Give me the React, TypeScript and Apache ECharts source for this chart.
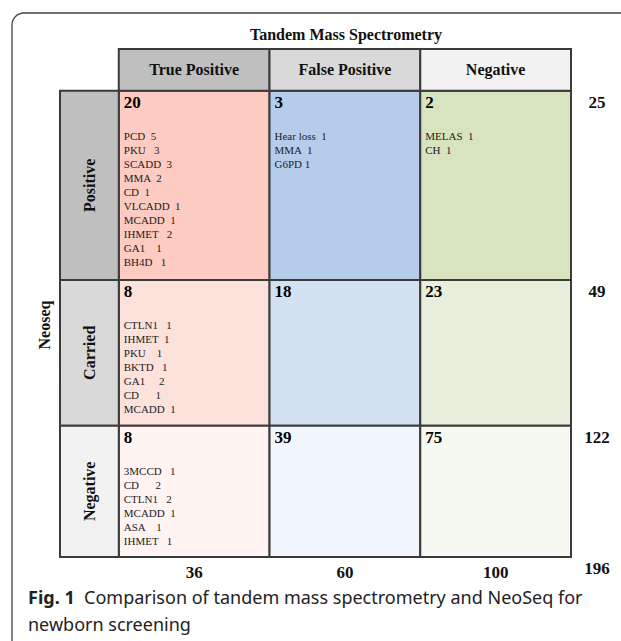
import React, { useEffect, useRef } from "react";
import * as echarts from "echarts";

// ---------- data ----------
const chartTitle = "Tandem Mass Spectrometry";
const rowAxisName = "Neoseq";
const colLabels = ["True Positive", "False Positive", "Negative"];
const rowLabels = ["Positive", "Carried", "Negative"];
const countsPositive = [20, 3, 2];
const countsCarried = [8, 18, 23];
const countsNegative = [8, 39, 75];
const rowTotals = [25, 49, 122];
const colTotals = [36, 60, 100];
const grandTotal = 196;
const detailsPositive = [
  ["PCD  5", "PKU   3", "SCADD  3", "MMA  2", "CD  1", "VLCADD  1", "MCADD  1", "IHMET   2", "GA1    1", "BH4D   1"],
  ["Hear loss  1", "MMA  1", "G6PD 1"],
  ["MELAS  1", "CH  1"],
];
const detailsCarried = [
  ["CTLN1   1", "IHMET  1", "PKU    1", "BKTD   1", "GA1     2", "CD      1", "MCADD  1"],
  [],
  [],
];
const detailsNegative = [
  ["3MCCD   1", "CD      2", "CTLN1   2", "MCADD  1", "ASA    1", "IHMET   1"],
  [],
  [],
];
const captionBold = "Fig. 1";
const captionText = "Comparison of tandem mass spectrometry and NeoSeq for";
const captionText2 = "newborn screening";

// ---------- styles ----------
const counts = [countsPositive, countsCarried, countsNegative];
const details = [detailsPositive, detailsCarried, detailsNegative];
const cellColors = [
  ["#fdcbc1", "#b5cdeb", "#d8e4bd"],
  ["#fde2dc", "#d3e1f3", "#e8efdc"],
  ["#fff4f2", "#f0f6fb", "#f6f9f1"],
];
const headerColors = ["#bfbfbf", "#d9d9d9", "#f2f2f2"];
const BORDER = "#3b3b3b";
const SERIF = '"Liberation Serif", "Times New Roman", serif';
const SANS = '"Noto Sans", "Open Sans", sans-serif';
const HEADER_W = 0.39;
const HEADER_H = 2.9;
const ROW_PAD = 3.1;

const rowUnits = details.map((r) => Math.max(...r.map((c) => c.length)) + ROW_PAD);
const rowStarts: number[] = [];
rowUnits.reduce((acc, u, i) => {
  rowStarts[i] = acc;
  return acc + u;
}, 0);
const yMax = rowUnits.reduce((a, b) => a + b, 0);

export default function App() {
  const ref = useRef<HTMLDivElement>(null);
  useEffect(() => {
    if (!ref.current) return;
    const chart = echarts.init(ref.current, undefined, { renderer: "svg" });

    const cellData: number[][] = [];
    counts.forEach((row, r) => row.forEach((v, c) => cellData.push([c, r, v])));

    const option: any = {
      animation: false,
      backgroundColor: "#ffffff",
      title: {
        text: chartTitle,
        left: 346,
        top: 26,
        padding: 0,
        textAlign: "center",
        textStyle: { fontFamily: SERIF, fontWeight: "bold", fontSize: 16, color: "#111" },
      },
      grid: { left: 60, right: 50, top: 49, bottom: 84 },
      xAxis: { type: "value", min: -HEADER_W, max: 3, show: false },
      yAxis: { type: "value", min: -HEADER_H, max: yMax, inverse: true, show: false },
      graphic: [
        {
          type: "rect",
          shape: { x: 12, y: 13, width: 800, height: 800, r: 12 },
          style: { fill: "none", stroke: "#444", lineWidth: 1.3 },
          z: -10,
          silent: true,
        },
        {
          type: "text",
          x: 44,
          y: 325,
          rotation: Math.PI / 2,
          style: {
            text: rowAxisName,
            fontFamily: SERIF,
            fontWeight: "bold",
            fontSize: 16,
            fill: "#111",
            align: "center",
            verticalAlign: "middle",
          },
        },
        {
          type: "text",
          x: 28,
          y: 583,
          style: {
            text: `{b|${captionBold}}  ${captionText}\n${captionText2}`,
            rich: { b: { fontWeight: "bold", fontFamily: SANS, fontSize: 18, fill: "#222", lineHeight: 27 } },
            fontFamily: SANS,
            fontSize: 18,
            lineHeight: 27,
            fill: "#222",
            verticalAlign: "top",
          },
        },
      ],
      series: [
        {
          type: "custom",
          name: "cells",
          coordinateSystem: "cartesian2d",
          data: cellData,
          renderItem: (params: any, api: any) => {
            const c = api.value(0);
            const r = api.value(1);
            const v = api.value(2);
            const p0 = api.coord([c, rowStarts[r]]);
            const p1 = api.coord([c + 1, rowStarts[r] + rowUnits[r]]);
            const lines = details[r][c];
            return {
              type: "group",
              children: [
                {
                  type: "rect",
                  shape: { x: p0[0], y: p0[1], width: p1[0] - p0[0], height: p1[1] - p0[1] },
                  style: { fill: cellColors[r][c], stroke: BORDER, lineWidth: 2 },
                },
                {
                  type: "text",
                  x: p0[0] + 5,
                  y: p0[1] + 3,
                  style: {
                    text: String(v),
                    fontFamily: SERIF,
                    fontWeight: "bold",
                    fontSize: 17,
                    fill: "#000",
                    align: "left",
                    verticalAlign: "top",
                  },
                },
                {
                  type: "text",
                  x: p0[0] + 5,
                  y: p0[1] + 38,
                  style: {
                    text: lines.join("\n"),
                    fontFamily: SERIF,
                    fontSize: 11,
                    lineHeight: 14,
                    fill: "#222",
                    align: "left",
                    verticalAlign: "top",
                  },
                },
              ],
            };
          },
        },
        {
          type: "custom",
          name: "colHeaders",
          coordinateSystem: "cartesian2d",
          data: colLabels.map((l, i) => [i, 0]),
          renderItem: (params: any, api: any) => {
            const i = params.dataIndex;
            const c = api.value(0);
            const p0 = api.coord([c, -HEADER_H]);
            const p1 = api.coord([c + 1, 0]);
            return {
              type: "group",
              children: [
                {
                  type: "rect",
                  shape: { x: p0[0], y: p0[1], width: p1[0] - p0[0], height: p1[1] - p0[1] },
                  style: { fill: headerColors[i], stroke: BORDER, lineWidth: 2 },
                },
                {
                  type: "text",
                  x: (p0[0] + p1[0]) / 2,
                  y: (p0[1] + p1[1]) / 2,
                  style: {
                    text: colLabels[i],
                    fontFamily: SERIF,
                    fontWeight: "bold",
                    fontSize: 16,
                    fill: "#111",
                    align: "center",
                    verticalAlign: "middle",
                  },
                },
              ],
            };
          },
        },
        {
          type: "custom",
          name: "rowHeaders",
          coordinateSystem: "cartesian2d",
          data: rowLabels.map((l, i) => [-HEADER_W, i]),
          renderItem: (params: any, api: any) => {
            const i = params.dataIndex;
            const p0 = api.coord([-HEADER_W, rowStarts[i]]);
            const p1 = api.coord([0, rowStarts[i] + rowUnits[i]]);
            return {
              type: "group",
              children: [
                {
                  type: "rect",
                  shape: { x: p0[0], y: p0[1], width: p1[0] - p0[0], height: p1[1] - p0[1] },
                  style: { fill: headerColors[i], stroke: BORDER, lineWidth: 2 },
                },
                {
                  type: "text",
                  x: (p0[0] + p1[0]) / 2,
                  y: (p0[1] + p1[1]) / 2,
                  rotation: Math.PI / 2,
                  style: {
                    text: rowLabels[i],
                    fontFamily: SERIF,
                    fontWeight: "bold",
                    fontSize: 16,
                    fill: "#111",
                    align: "center",
                    verticalAlign: "middle",
                  },
                },
              ],
            };
          },
        },
        {
          type: "custom",
          name: "rowTotals",
          coordinateSystem: "cartesian2d",
          data: rowTotals.map((v, i) => [3, i, v]),
          renderItem: (params: any, api: any) => {
            const r = api.value(1);
            const p = api.coord([3, rowStarts[r]]);
            return {
              type: "text",
              x: p[0] + 26,
              y: p[1] + 3,
              style: {
                text: String(api.value(2)),
                fontFamily: SERIF,
                fontWeight: "bold",
                fontSize: 17,
                fill: "#111",
                align: "center",
                verticalAlign: "top",
              },
            };
          },
        },
        {
          type: "custom",
          name: "colTotals",
          coordinateSystem: "cartesian2d",
          data: colTotals.map((v, i) => [i, yMax, v]),
          renderItem: (params: any, api: any) => {
            const c = api.value(0);
            const p = api.coord([c + 0.5, yMax]);
            return {
              type: "text",
              x: p[0],
              y: p[1] + 15,
              style: {
                text: String(api.value(2)),
                fontFamily: SERIF,
                fontWeight: "bold",
                fontSize: 17,
                fill: "#111",
                align: "center",
                verticalAlign: "middle",
              },
            };
          },
        },
        {
          type: "custom",
          name: "grandTotal",
          coordinateSystem: "cartesian2d",
          data: [[3, yMax, grandTotal]],
          renderItem: (params: any, api: any) => {
            const p = api.coord([3, yMax]);
            return {
              type: "text",
              x: p[0] + 26,
              y: p[1] + 11,
              style: {
                text: String(api.value(2)),
                fontFamily: SERIF,
                fontWeight: "bold",
                fontSize: 17,
                fill: "#111",
                align: "center",
                verticalAlign: "middle",
              },
            };
          },
        },
      ],
    };
    chart.setOption(option);
    return () => chart.dispose();
  }, []);
  return (
    <div
      ref={ref}
      style={{ position: "fixed", left: 0, top: 0, width: 621, height: 641 }}
    />
  );
}
